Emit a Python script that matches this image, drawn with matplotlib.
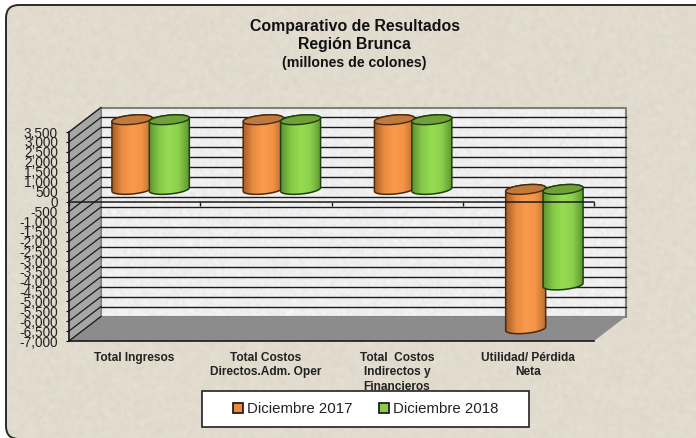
import numpy as np
import matplotlib
matplotlib.use('Agg')
import matplotlib.pyplot as plt
from matplotlib.patches import FancyBboxPatch, Polygon, Rectangle, PathPatch
from matplotlib.path import Path
from matplotlib.lines import Line2D
from matplotlib.colors import LinearSegmentedColormap

categories = ['Total Ingresos', 'Total Costos\nDirectos.Adm. Oper',
              'Total  Costos\nIndirectos y\nFinancieros', 'Utilidad/ Pérdida\nNeta']
dic_2017 = [3500, 3500, 3500, -7000]
dic_2018 = [3500, 3500, 3500, -4800]
series_names = ['Diciembre 2017', 'Diciembre 2018']
y_ticks = list(range(-7000, 4000, 500))

plt.rcParams['font.family'] = ['Liberation Sans', 'DejaVu Sans']

W, H = 696, 438
fig = plt.figure(figsize=(W / 100, H / 100), dpi=100)


def speckle(shape, base, amount, seed, blur=3, dots=0.0):
    # papel con textura, solo decorativo
    rng = np.random.default_rng(seed)
    n = rng.normal(0, 1, shape)
    k = np.ones(blur) / blur
    n = np.apply_along_axis(lambda r: np.convolve(r, k, mode='same'), 1, n)
    n = np.apply_along_axis(lambda r: np.convolve(r, k, mode='same'), 0, n)
    n = n * blur / 3
    if dots:
        n = n - (rng.random(shape) < dots) * 2.5
    img = np.ones(shape + (3,)) * np.array(base)
    return np.clip(img + (n * amount)[..., None], 0, 1)


# fondo
bg = fig.add_axes([0, 0, 1, 1])
bg.set_xlim(0, W)
bg.set_ylim(H, 0)
bg.axis('off')
frame = FancyBboxPatch((18, 17), 730, 410, boxstyle='round,pad=12,rounding_size=13',
                       fc='none', ec='#2b2b2b', lw=1.4, zorder=3)
bg.add_patch(frame)
im = bg.imshow(speckle((H, W), (0.885, 0.86, 0.81), 0.018, 1, blur=5, dots=0.002), extent=[0, W, H, 0],
               aspect='auto', zorder=1, interpolation='bilinear')
im.set_clip_path(frame)

# eje principal = plano frontal
ax = fig.add_axes([69 / W, 1 - 341 / H, 525 / W, 209 / H])
ax.patch.set_visible(False)
ax.set_xlim(0, 4)
ax.set_ylim(-7000, 3500)
dx = 32 / 131.25
dy = 24.5 / 209 * 10500

# pared del fondo
wall = Polygon([(dx, -7000 + dy), (4 + dx, -7000 + dy), (4 + dx, 3500 + dy), (dx, 3500 + dy)],
               closed=True, fc='none', ec='#808080', lw=1.5, zorder=2, clip_on=False)
ax.add_patch(wall)
w_im = ax.imshow(speckle((211, 526), (0.94, 0.94, 0.94), 0.03, 2), aspect='auto',
                 extent=[dx, 4 + dx, -7000 + dy, 3500 + dy], zorder=1)
w_im.set_clip_box(fig.bbox)
w_im.set_clip_path(wall)
ax.set_xlim(0, 4)
ax.set_ylim(-7000, 3500)

# pared izquierda y piso
ax.add_patch(Polygon([(0, -7000), (dx, -7000 + dy), (dx, 3500 + dy), (0, 3500)], closed=True,
                     fc='#a6a6a6', ec='#808080', lw=1, zorder=2, clip_on=False))
ax.add_patch(Polygon([(0, -7000), (4, -7000), (4 + dx, -7000 + dy), (dx, -7000 + dy)], closed=True,
                     fc='#8c8c8c', ec='none', zorder=3, clip_on=False))

for t in y_ticks:
    ax.plot([0, dx], [t, t + dy], color='#1a1a1a', lw=0.9, zorder=4, clip_on=False)
    if -7000 < t < 3500:
        ax.plot([dx, 4 + dx], [t + dy, t + dy], color='#1a1a1a', lw=1.0, zorder=4, clip_on=False)

orange_map = LinearSegmentedColormap.from_list('o', ['#a85f26', '#e88c42', '#fb9b4c', '#f29346', '#b9702f'])
green_map = LinearSegmentedColormap.from_list('g', ['#5d9432', '#86c948', '#97dc52', '#8ccf4c', '#5f9a33'])
a = 20 / 131.25
b = 4.6 / 209 * 10500
shear = 1.8 / 209 * 10500
sep = 37.4 / 131.25


def cylinder(xc, val, cmap, cap, edge, z):
    y_top = max(val, 0) + dy / 2
    y_bot = min(val, 0) + dy / 2
    t = np.linspace(np.pi, 2 * np.pi, 50)
    low = np.c_[xc + a * np.cos(t), y_bot + b * np.sin(t) + shear * np.cos(t)]
    t2 = np.linspace(0, np.pi, 50)
    up = np.c_[xc + a * np.cos(t2), y_top + b * np.sin(t2) + shear * np.cos(t2)]
    body = Path(np.r_[low, up, low[:1]], closed=False)
    patch = PathPatch(body, fc='none', ec=edge, lw=1.1, zorder=z + 0.2, clip_on=False)
    ax.add_patch(patch)
    g = ax.imshow(np.linspace(0, 1, 64)[None, :], cmap=cmap, aspect='auto', zorder=z,
                  extent=[xc - a, xc + a, y_bot - 2 * b, y_top + 2 * b])
    g.set_clip_box(fig.bbox)
    g.set_clip_path(patch)
    t3 = np.linspace(0, 2 * np.pi, 100)
    ax.add_patch(Polygon(np.c_[xc + a * np.cos(t3), y_top + b * np.sin(t3) + shear * np.cos(t3)],
                         closed=True, fc=cap, ec=edge, lw=1.0, zorder=z + 0.3, clip_on=False))


for i, (v17, v18) in enumerate(zip(dic_2017, dic_2018)):
    mid = i + 0.5 + dx / 2
    cylinder(mid - sep / 2, v17, orange_map, '#c27a3c', '#4a2a10', 5)
    cylinder(mid + sep / 2, v18, green_map, '#70a037', '#1f4010', 6)
ax.set_xlim(0, 4)
ax.set_ylim(-7000, 3500)

# linea de cero con sus marcas
ax.plot([0, 4], [0, 0], color='#1a1a1a', lw=1.1, zorder=8, clip_on=False)
ax.vlines(range(5), -200, 0, color='#1a1a1a', lw=1.0, zorder=8, clip_on=False)

for s in ['top', 'right']:
    ax.spines[s].set_visible(False)
for s in ['left', 'bottom']:
    ax.spines[s].set_color('#1a1a1a')
    ax.spines[s].set_linewidth(1.2)
    ax.spines[s].set_zorder(9)
ax.set_yticks(y_ticks)
ax.set_yticklabels([f'{t:,}' for t in y_ticks], fontsize=9.8, color='#222222')
ax.tick_params(axis='y', length=2, width=0.8, pad=6)
ax.set_xticks(np.arange(4) + 0.5)
ax.set_xticklabels(categories, fontsize=8.6, fontweight='bold', color='#222222', linespacing=1.25)
ax.tick_params(axis='x', length=0, pad=8)

# titulo
for y, txt, size in [(26, 'Comparativo de Resultados', 11.4), (44, 'Región Brunca', 11.4),
                     (63, '(millones de colones)', 10.2)]:
    fig.text(354.5 / W, 1 - y / H, txt, ha='center', va='center', fontsize=size, fontweight='bold', color='#111111')

# leyenda
fig.add_artist(Rectangle((202 / W, 1 - 427 / H), 327 / W, 36.5 / H, transform=fig.transFigure,
                         fc='white', ec='#222222', lw=1.2, zorder=5))
handles = [Line2D([], [], ls='none', marker='s', ms=6.5, mfc=c, mec='#222222', mew=1.3)
           for c in ['#f0883a', '#8ccf4c']]
leg = fig.legend(handles, series_names, loc='center', bbox_to_anchor=(366 / W, 1 - 409 / H), ncol=2,
                 frameon=False, fontsize=10.8, handlelength=0.7, handletextpad=0.25, columnspacing=1.75,
                 labelcolor='#222222')
leg.set_zorder(6)

fig.savefig('out.png', dpi=100)
